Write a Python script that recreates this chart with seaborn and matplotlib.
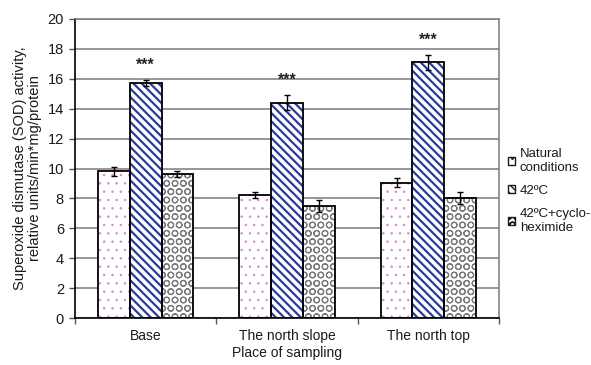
import matplotlib
matplotlib.use("Agg")
import matplotlib.pyplot as plt
from matplotlib.patches import Patch, Rectangle
import seaborn as sns
import pandas as pd

# SOD activity by sampling place and treatment
places = ["Base", "The north slope", "The north top"]
treatments = ["Natural\nconditions", "42ºC", "42ºC+cyclo-\nheximide"]
natural = [9.8, 8.2, 9.05]
heat = [15.7, 14.4, 17.1]
heat_chx = [9.6, 7.5, 8.0]
natural_err = [0.3, 0.2, 0.3]
heat_err = [0.2, 0.5, 0.5]
heat_chx_err = [0.2, 0.4, 0.4]
significance = ["***", "***", "***"]

values = [natural, heat, heat_chx]
errors = [natural_err, heat_err, heat_chx_err]

rows = []
for t, vals in zip(treatments, values):
    for p, v in zip(places, vals):
        rows.append({"place": p, "treatment": t, "sod": v})
df = pd.DataFrame(rows)

sns.set_theme(style="white")
plt.rcParams["font.family"] = ["Liberation Sans", "DejaVu Sans"]

fig = plt.figure(figsize=(5.91, 3.65), dpi=100)
ax = fig.add_axes([75 / 591, 1 - 318 / 365, (499 - 75) / 591, (318 - 19) / 365])

ax.set_axisbelow(True)
ax.yaxis.grid(True, color="#7a7a7a", linewidth=1.1)

sns.barplot(data=df, x="place", y="sod", hue="treatment", order=places,
            hue_order=treatments, width=0.675, errorbar=None, ax=ax,
            legend=False, saturation=1)

# (hatch, hatch colour, hatch line width)
hatch_styles = [
    ("..", "#e57ad6", 0.5),
    ("\\\\\\\\", "#2a3a9e", 1.6),
    ("OO", "#7a7a7a", 0.8),
]

bars = [p for p in ax.patches if isinstance(p, Rectangle) and p.get_width() > 0]
bars = sorted(bars, key=lambda b: b.get_x())
n_place = len(places)
for i, b in enumerate(bars):
    gi, hi = divmod(i, len(treatments))
    hatch, col, hlw = hatch_styles[hi]
    b.set_facecolor("white")
    b.set_hatch(hatch)
    b.set_edgecolor(col)
    b.set_linewidth(0)
    if hasattr(b, "set_hatch_linewidth"):
        b.set_hatch_linewidth(hlw)
    ax.add_patch(Rectangle((b.get_x(), b.get_y()), b.get_width(), b.get_height(),
                           fill=False, edgecolor="black", linewidth=1.3, zorder=3))
    xc = b.get_x() + b.get_width() / 2
    val = values[hi][gi]
    err = errors[hi][gi]
    ax.errorbar(xc, val, yerr=err, fmt="none", ecolor="black",
                elinewidth=1.0, capsize=2.5, capthick=1.0, zorder=4)
    if hi == 1:
        ax.text(xc, val + err + 0.5, significance[gi], ha="center", va="bottom",
                fontsize=11.5, fontweight="bold", color="#222222")

ax.set_xlim(-0.5, 2.5)
ax.set_ylim(0, 20)
ax.set_yticks(range(0, 21, 2))
ax.set_xticks(range(n_place))
ax.set_xticklabels(places)
ax.set_xticks([-0.5, 0.5, 1.5, 2.5], minor=True)
ax.tick_params(axis="x", which="major", length=0, pad=8, labelsize=10, colors="#1a1a1a")
ax.tick_params(axis="x", which="minor", length=4, width=1, color="#555555",
               direction="out", bottom=True)
ax.tick_params(axis="y", length=4, width=1, color="#555555", direction="out",
               left=True, labelsize=10.5, pad=4, labelcolor="#1a1a1a")

for side in ["left", "bottom"]:
    ax.spines[side].set_color("black")
    ax.spines[side].set_linewidth(1.2)
for side in ["top", "right"]:
    ax.spines[side].set_color("#7a7a7a")
    ax.spines[side].set_linewidth(1.1)

ax.set_xlabel("Place of sampling", fontsize=10, labelpad=2, color="#1a1a1a")
ax.set_ylabel("Superoxide dismutase (SOD) activity,\nrelative units/min*mg/protein",
              fontsize=10.5, labelpad=4, color="#1a1a1a", linespacing=1.05)

handles = []
for hatch, col, hlw in hatch_styles:
    h = Patch(facecolor="white", edgecolor="#1a1a1a", hatch=hatch, linewidth=1.0)
    handles.append(h)
leg = fig.legend(handles, treatments, loc="upper left",
                 bbox_to_anchor=(496 / 591, 1 - 136 / 365), frameon=False,
                 fontsize=9.5, handlelength=0.55, handleheight=0.55,
                 handletextpad=0.35, labelspacing=0.85)
for t in leg.get_texts():
    t.set_color("#1a1a1a")

fig.savefig("out.png", dpi=100)
